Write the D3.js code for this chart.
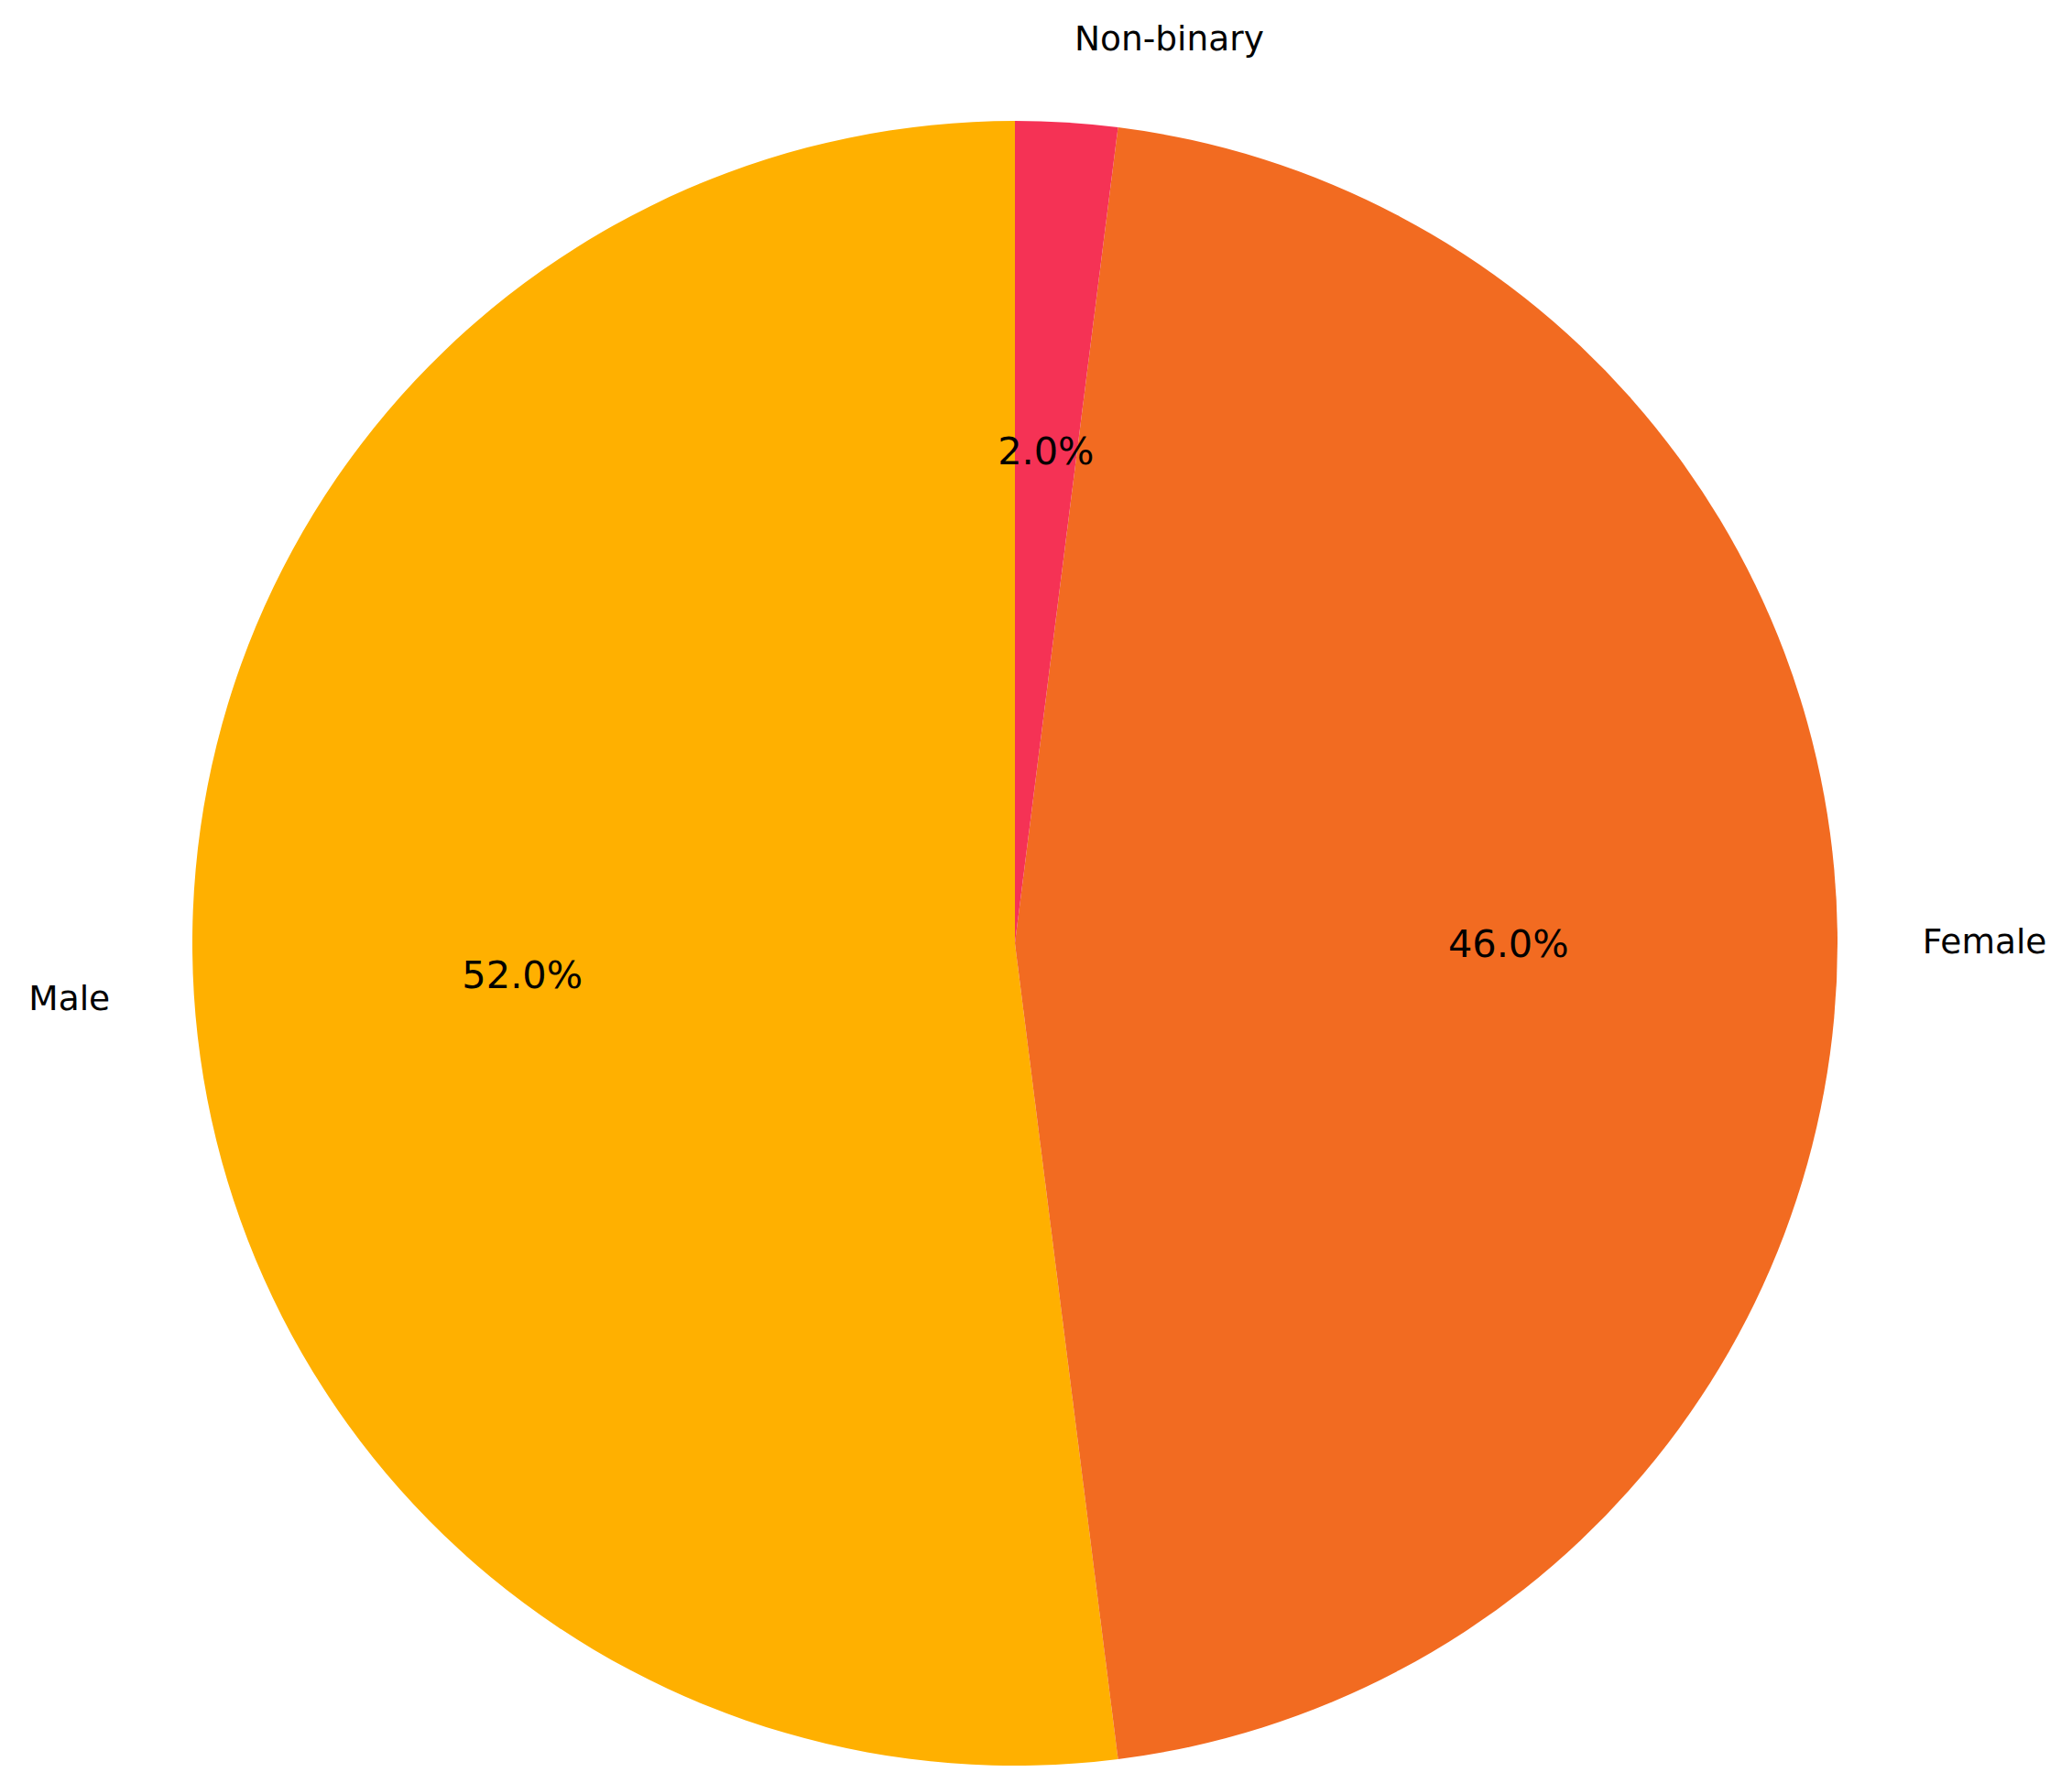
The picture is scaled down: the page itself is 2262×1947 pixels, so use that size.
<!DOCTYPE html>
<meta charset="utf-8">
<style>
body { margin: 0; background: #fff; }
text { font-family: "DejaVu Sans", sans-serif; fill: #000; }
</style>
<body>
<div id="chart"></div>
</body>
<script src="https://d3js.org/d3.v7.min.js"></script>
<script>

    var labels = ["Male", "Female", "Non-binary"],
        values = [52, 46, 2],
        colors = ["#FFB000", "#F26B21", "#F53255"];

    var width = 2262,
        height = 1947,
        cx = 1108,
        cy = 1030,
        radius = 898;

    var svg = d3.select("#chart").append("svg")
        .attr("width", width)
        .attr("height", height);

    var g = svg.append("g")
        .attr("transform", "translate(" + cx + "," + cy + ")");

    // counter-clockwise from 12 o'clock, like matplotlib startangle=90
    var pie = d3.pie()
        .sort(null)
        .startAngle(0)
        .endAngle(-2 * Math.PI)
        .value(function(d) { return d; });

    var arcs = pie(values);
    var total = d3.sum(values);

    var arc = d3.arc().innerRadius(0).outerRadius(radius);

    g.selectAll("path")
        .data(arcs)
        .enter().append("path")
        .attr("d", arc)
        .style("fill", function(d, i) { return colors[i]; });

    function pos(d, k) {
        var a = (d.startAngle + d.endAngle) / 2;
        return [Math.sin(a) * radius * k, -Math.cos(a) * radius * k];
    }

    // percent labels
    g.selectAll(".pct")
        .data(arcs)
        .enter().append("text")
        .attr("class", "pct")
        .attr("x", function(d) { return pos(d, 0.6)[0]; })
        .attr("y", function(d) { return pos(d, 0.6)[1]; })
        .attr("dy", "0.36em")
        .style("font-size", "41.5px")
        .style("text-anchor", "middle")
        .text(function(d) { return (d.value / total * 100).toFixed(1) + "%"; });

    // category labels
    g.selectAll(".lbl")
        .data(arcs)
        .enter().append("text")
        .attr("class", "lbl")
        .attr("x", function(d) { return pos(d, 1.1)[0] + (pos(d, 1.1)[0] < 0 ? -2 : 3); })
        .attr("y", function(d) { return pos(d, 1.1)[1]; })
        .attr("dy", "0.3em")
        .style("font-size", "37.5px")
        .style("text-anchor", function(d) { return pos(d, 1.1)[0] < 0 ? "end" : "start"; })
        .text(function(d, i) { return labels[i]; });

</script>
